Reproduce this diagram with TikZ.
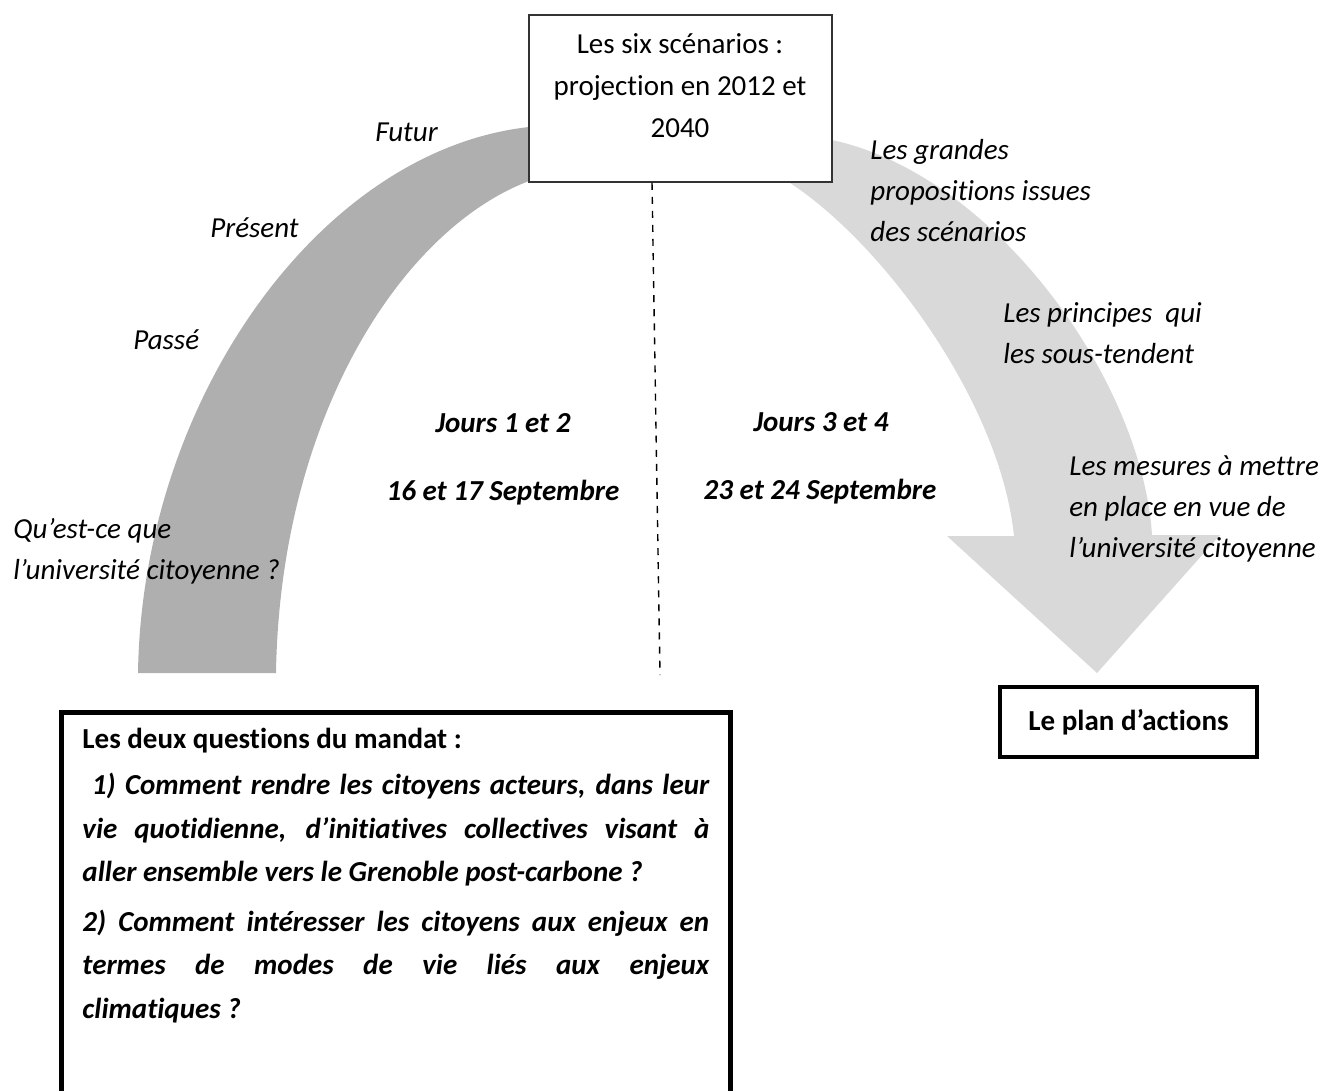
\documentclass[tikz,border=0pt]{standalone}
\usepackage{fontspec}
\setmainfont{Carlito}[Ligatures=NoCommon]
\definecolor{arcgray}{HTML}{AFAFAF}
\definecolor{arrowgray}{HTML}{D9D9D9}

\begin{document}
\begin{tikzpicture}[x=0.02cm, y=-0.02cm,
    every node/.style={inner sep=0pt, font=\fontsize{16.5}{23.3}\selectfont},
    lbl/.style={anchor=base west, align=left, font=\fontsize{16.5}{23.3}\selectfont\itshape},
    jours/.style={anchor=base, font=\fontsize{16.5}{23.3}\selectfont\bfseries\itshape},
    scenbox/.style={draw=black!80, line width=0.85pt, fill=white, minimum width=6.06cm, minimum height=3.34cm},
    planbox/.style={draw, line width=2.8pt, minimum width=5.14cm, minimum height=1.4cm, font=\fontsize{16.5}{23.3}\selectfont\bfseries},
    mandatbox/.style={draw, line width=2.8pt, anchor=north west, text width=12.54cm, align=justify,
        inner xsep=0.42cm, inner ysep=0.32cm, font=\fontsize{16.5}{24.7}\selectfont\bfseries},
    dashline/.style={line width=0.8pt, dash pattern=on 4pt off 4pt}]
    \useasboundingbox (0,0) rectangle (1325,1090);
    \clip (0,0) rectangle (1325,1090);

    % the arch: past side and the arrow towards the plan
    \fill[arcgray] (138,673) .. controls (142,400) and (320,150) .. (529,127) -- (529,181)
        .. controls (400,230) and (280,420) .. (276,673) -- cycle;
    \fill[arrowgray] (787,181) -- (832,140) .. controls (995,175) and (1142,380) .. (1152,535)
        -- (1220,535) -- (1097,673) -- (947,536) -- (1014,536)
        .. controls (1000,400) and (880,240) .. (787,181) -- cycle;

    \node[scenbox] (scen) at (680.5,98.5) {};
    \node[align=center, font=\fontsize{16.5}{23.9}\selectfont] (scentxt) at (680,86) {Les six scénarios :\\projection en 2012 et\\2040};
    \coordinate (dashend) at (660,675);
    \draw[dashline] ([xshift=-0.57cm]scen.south) -- (dashend);

    % labels are placed by the baseline of their last line
    \node[lbl] (futur) at (375,141) {Futur};
    \node[lbl] (present) at (210,237) {Présent};
    \node[lbl] (passe) at (133,349) {Passé};
    \node[lbl] (question) at (13,579) {Qu’est-ce que\\l’université citoyenne ?};
    \node[lbl] (grandes) at (870,241) {Les grandes\\propositions issues\\des scénarios};
    \node[lbl] (principes) at (1003,363) {Les principes~~qui\\les sous-tendent};
    \node[lbl] (mesures) at (1069,557) {Les mesures à mettre\\en place en vue de\\l’université citoyenne};

    \node[jours] (jours12) at (503,432) {Jours 1 et 2};
    \node[jours] (dates12) at (503,500) {16 et 17 Septembre};
    \node[jours] (jours34) at (821,431) {Jours 3 et 4};
    \node[jours] (dates34) at (820,499) {23 et 24 Septembre};

    \node[planbox] (plan) at (1128.5,722) {Le plan d’actions};

    \node[mandatbox] (mandat) at (59,710) {Les deux questions du mandat :\par\vspace{1.5pt}
        \itshape\ 1) Comment rendre les citoyens acteurs, dans leur\linebreak
        vie quotidienne, d’initiatives collectives visant à\linebreak
        aller ensemble vers le Grenoble post-carbone ?\par\vspace{3.7pt}
        2) Comment intéresser les citoyens aux enjeux en\linebreak
        termes de modes de vie liés aux enjeux\linebreak
        climatiques ?\par\rule{0pt}{3cm}};
\end{tikzpicture}
\end{document}
